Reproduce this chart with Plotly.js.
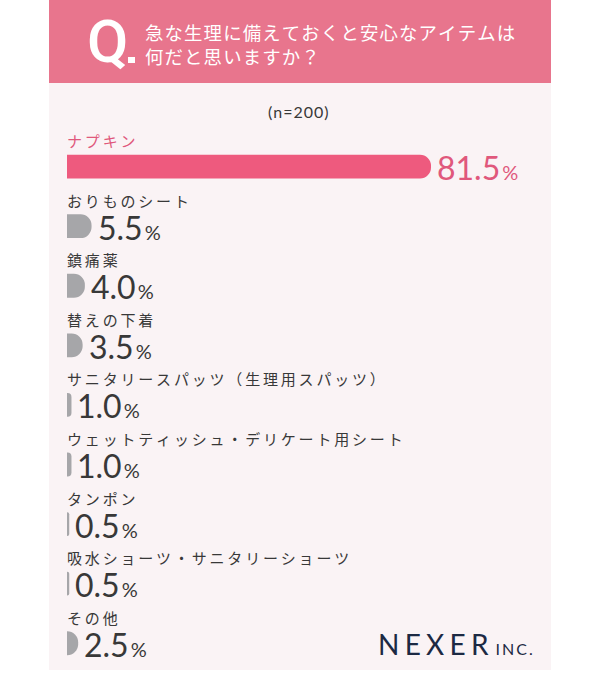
<!DOCTYPE html>
<html>
<head>
<meta charset="utf-8">
<script src="https://cdn.plot.ly/plotly-3.0.1.min.js"></script>
<style>html,body{margin:0;padding:0;background:#fff;}#chart{width:600px;height:673px;}</style>
</head>
<body>
<div id="chart"></div>
<script>
const categories = ["ナプキン","おりものシート","鎮痛薬","替えの下着","サニタリースパッツ（生理用スパッツ）","ウェットティッシュ・デリケート用シート","タンポン","吸水ショーツ・サニタリーショーツ","その他"];
const values = [81.5, 5.5, 4.0, 3.5, 1.0, 1.0, 0.5, 0.5, 2.5];
const valueLabels = ["81.5","5.5","4.0","3.5","1.0","1.0","0.5","0.5","2.5"];
const questionLines = ["急な生理に備えておくと安心なアイテムは", "何だと思いますか？"];
const sampleText = "(n=200)";

const PINK = "#ee5a7e", GRAY = "#a6a6a9", HEADER = "#e8758d", PANEL = "#faf3f5", DARK = "#383838";
const JP = "'Noto Sans CJK JP', 'Noto Sans', sans-serif";
const NUM = "Lato, 'Noto Sans', sans-serif";
const spaced = (s, sp) => Array.from(s).join(sp || "\u200A");

// plot area geometry (px) for paper-coord conversion
const L = 67, R = 49, T = 113, B = 0, W = 600, H = 673;
const pw = W - L - R, ph = H - T - B;
const px = x => (x - L) / pw;
const py = y => (H - B - y) / ph;

const idx = categories.map((_, i) => i);
const colors = values.map((_, i) => i === 0 ? PINK : GRAY);

const annotations = [];
categories.forEach((c, i) => {
  annotations.push({x: 0, y: i, xref: 'x', yref: 'y', text: spaced(c, "\u200A\u200A\u200A"), showarrow: false,
    xanchor: 'left', yanchor: 'middle', yshift: 26, xshift: -2,
    font: {family: JP, size: 15, color: i === 0 ? "#e0587c" : DARK}});
  annotations.push({x: values[i], y: i, xref: 'x', yref: 'y',
    text: valueLabels[i] + "\u200A<span style='font-size:20px'>%</span>", showarrow: false,
    xanchor: 'left', yanchor: 'middle', xshift: 4, yshift: -1,
    font: {family: NUM, size: 32, color: i === 0 ? "#e0587c" : DARK}});
});
annotations.push({x: px(298), y: py(111), xref: 'paper', yref: 'paper', text: spaced(sampleText), showarrow: false,
  xanchor: 'center', yanchor: 'middle',
  font: {family: NUM, size: 16, color: DARK}});
annotations.push({x: px(85), y: py(41), xref: 'paper', yref: 'paper', text: "Q", showarrow: false,
  xanchor: 'left', yanchor: 'middle', font: {family: "Roboto, sans-serif", size: 60, weight: 500, color: "#ffffff"}});
annotations.push({x: px(143), y: py(44), xref: 'paper', yref: 'paper',
  text: questionLines.map(t => spaced(t)).join("<br>"), showarrow: false,
  xanchor: 'left', yanchor: 'middle', align: 'left',
  font: {family: JP, size: 18.4, color: "#ffffff"}});
annotations.push({x: px(535), y: py(644), xref: 'paper', yref: 'paper',
  text: spaced("NEXER", "\u2009\u200A") + " <span style='font-size:16px'>" + spaced("INC.", "\u2009") + "</span>", showarrow: false,
  xanchor: 'right', yanchor: 'middle', font: {family: NUM, size: 28, color: "#1c2943"}});

const shapes = [
  {type: 'rect', xref: 'paper', yref: 'paper', x0: px(49), x1: px(551), y0: py(670), y1: py(83),
   fillcolor: PANEL, line: {width: 0}, layer: 'below'},
  {type: 'rect', xref: 'paper', yref: 'paper', x0: px(49), x1: px(551), y0: py(83), y1: py(0),
   fillcolor: HEADER, line: {width: 0}, layer: 'below'},
  {type: 'rect', xref: 'paper', yref: 'paper', x0: px(128), x1: px(135), y0: py(63), y1: py(57),
   fillcolor: "#ffffff", line: {width: 0}, layer: 'above'}
];

const trace = {type: 'bar', orientation: 'h', x: values, y: idx, width: 0.4,
  marker: {color: colors, cornerradius: 12}, hoverinfo: 'skip'};

const layout = {
  width: W, height: H, margin: {l: L, r: R, t: T, b: B},
  paper_bgcolor: '#ffffff', plot_bgcolor: 'rgba(0,0,0,0)', showlegend: false,
  xaxis: {range: [0, pw / (364 / 81.5)], visible: false, fixedrange: true},
  yaxis: {range: [8.5, -0.9], visible: false, fixedrange: true},
  shapes: shapes, annotations: annotations
};
Plotly.newPlot('chart', [trace], layout, {displayModeBar: false, staticPlot: true});
</script>
</body>
</html>
